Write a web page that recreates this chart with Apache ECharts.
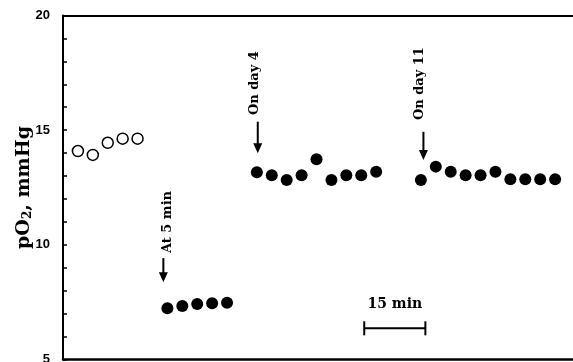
<!DOCTYPE html>
<html>
<head>
<meta charset="utf-8">
<script src="https://cdn.jsdelivr.net/npm/echarts@6/dist/echarts.min.js"></script>
<style>
  html, body { margin: 0; padding: 0; background: #fff; }
  #chart { width: 573px; height: 362px; }
</style>
</head>
<body>
<div id="chart"></div>
<script>
// Sample positions along the (broken) time line, one unit per reading
var baselineX = [0, 1, 2, 3, 4];
var baselinePO2 = [14.09, 13.92, 14.45, 14.63, 14.63];

var min5X = [6, 7, 8, 9, 10];
var min5PO2 = [7.23, 7.33, 7.42, 7.45, 7.47];

var day4X = [12, 13, 14, 15, 16, 17, 18, 19, 20];
var day4PO2 = [13.16, 13.03, 12.83, 13.03, 13.73, 12.83, 13.03, 13.03, 13.19];

var day11X = [23, 24, 25, 26, 27, 28, 29, 30, 31, 32];
var day11PO2 = [12.83, 13.41, 13.19, 13.03, 13.03, 13.19, 12.86, 12.86, 12.86, 12.86];

// Event markers: label, arrow x, arrow top, arrow tip, label x, label start
var eventLabels = ['At 5 min', 'On day 4', 'On day 11'];
var eventArrowX = [5.73, 12.06, 23.17];
var eventArrowTop = [9.42, 15.37, 14.93];
var eventArrowTip = [8.37, 13.99, 13.70];
var eventLabelX = [6.04, 11.88, 22.94];
var eventLabelBase = [9.64, 15.66, 15.44];

// 15 min scale bar
var scaleBarLabel = '15 min';
var scaleBarStart = 19.2;
var scaleBarEnd = 23.3;
var scaleBarY = 6.36;

var yTickLabels = [5, 10, 15, 20];

function pairs(xs, ys) {
  return xs.map(function (x, i) { return [x, ys[i]]; });
}

var chart = echarts.init(document.getElementById('chart'), null, { renderer: 'canvas' });

var serifBold = '"DejaVu Serif", serif';

chart.setOption({
  animation: false,
  backgroundColor: '#ffffff',
  grid: { left: 63, right: 0, top: 15.5, bottom: 2.5, containLabel: false, outerBoundsMode: 'none' },
  xAxis: [
    {
      type: 'value', min: -1, max: 33.2, position: 'bottom',
      axisLine: { show: true, onZero: false, lineStyle: { color: '#000', width: 2.5 } },
      axisTick: { show: false }, axisLabel: { show: false }, splitLine: { show: false }
    },
    {
      type: 'value', min: -1, max: 33.2, position: 'top',
      axisLine: { show: true, onZero: false, lineStyle: { color: '#000', width: 2 } },
      axisTick: { show: false }, axisLabel: { show: false }, splitLine: { show: false }
    }
  ],
  yAxis: {
    type: 'value', min: 5, max: 20, interval: 1,
    name: '{a|pO}{s|2}{a|, mmHg}',
    nameLocation: 'middle', nameRotate: 90, nameGap: 29, nameMoveOverlap: false,
    nameTextStyle: {
      rich: {
        a: { fontFamily: serifBold, fontWeight: 'bold', fontSize: 19, color: '#000' },
        s: { fontFamily: serifBold, fontWeight: 'bold', fontSize: 12, color: '#000', verticalAlign: 'bottom', padding: [8, 0, 0, 0] }
      }
    },
    axisLine: { show: true, onZero: false, lineStyle: { color: '#000', width: 2 } },
    axisTick: { show: true, inside: true, length: 4, lineStyle: { color: '#000', width: 1.5 } },
    axisLabel: {
      margin: 13, color: '#000', fontFamily: '"Liberation Sans", Arial, sans-serif',
      fontWeight: 'bold', fontSize: 13,
      formatter: function (v) { return yTickLabels.indexOf(v) >= 0 ? String(v) : ''; }
    },
    splitLine: { show: false }
  },
  series: [
    {
      type: 'scatter', data: pairs(baselineX, baselinePO2), symbol: 'circle', symbolSize: 11,
      itemStyle: { color: '#fff', borderColor: '#000', borderWidth: 1.5, opacity: 1 }, clip: false
    },
    {
      type: 'scatter', data: pairs(min5X, min5PO2), symbol: 'circle', symbolSize: 12,
      itemStyle: { color: '#000', opacity: 1 }, clip: false
    },
    {
      type: 'scatter', data: pairs(day4X, day4PO2), symbol: 'circle', symbolSize: 12,
      itemStyle: { color: '#000', opacity: 1 }, clip: false
    },
    {
      type: 'scatter', data: pairs(day11X, day11PO2), symbol: 'circle', symbolSize: 12,
      itemStyle: { color: '#000', opacity: 1 }, clip: false
    },
    {
      // arrows with rotated labels
      type: 'custom', clip: false, silent: true,
      data: eventLabels.map(function (t, i) { return [eventArrowX[i], eventArrowTop[i], eventArrowTip[i], eventLabelX[i], eventLabelBase[i]]; }),
      renderItem: function (params, api) {
        var i = params.dataIndex;
        var top = api.coord([api.value(0), api.value(1)]);
        var tip = api.coord([api.value(0), api.value(2)]);
        var lab = api.coord([api.value(3), api.value(4)]);
        var headH = 10, headW = 4.5;
        return {
          type: 'group',
          children: [
            { type: 'line', shape: { x1: top[0], y1: top[1], x2: tip[0], y2: tip[1] - headH + 1 },
              style: { stroke: '#000', lineWidth: 2 } },
            { type: 'polygon', shape: { points: [[tip[0] - headW, tip[1] - headH], [tip[0] + headW, tip[1] - headH], [tip[0], tip[1]]] },
              style: { fill: '#000' } },
            { type: 'text', x: lab[0], y: lab[1], rotation: Math.PI / 2,
              style: { text: eventLabels[i], fill: '#000', font: 'bold 13px ' + serifBold, align: 'left', verticalAlign: 'middle' } }
          ]
        };
      }
    },
    {
      // scale bar
      type: 'custom', clip: false, silent: true,
      data: [[scaleBarStart, scaleBarEnd, scaleBarY]],
      renderItem: function (params, api) {
        var a = api.coord([api.value(0), api.value(2)]);
        var b = api.coord([api.value(1), api.value(2)]);
        var cap = 7;
        return {
          type: 'group',
          children: [
            { type: 'line', shape: { x1: a[0], y1: a[1], x2: b[0], y2: b[1] }, style: { stroke: '#000', lineWidth: 2 } },
            { type: 'line', shape: { x1: a[0], y1: a[1] - cap, x2: a[0], y2: a[1] + cap }, style: { stroke: '#000', lineWidth: 2 } },
            { type: 'line', shape: { x1: b[0], y1: b[1] - cap, x2: b[0], y2: b[1] + cap }, style: { stroke: '#000', lineWidth: 2 } },
            { type: 'text', x: (a[0] + b[0]) / 2, y: a[1] - 24,
              style: { text: scaleBarLabel, fill: '#000', font: 'bold 14px ' + serifBold, align: 'center', verticalAlign: 'middle' } }
          ]
        };
      }
    }
  ]
});
</script>
</body>
</html>
